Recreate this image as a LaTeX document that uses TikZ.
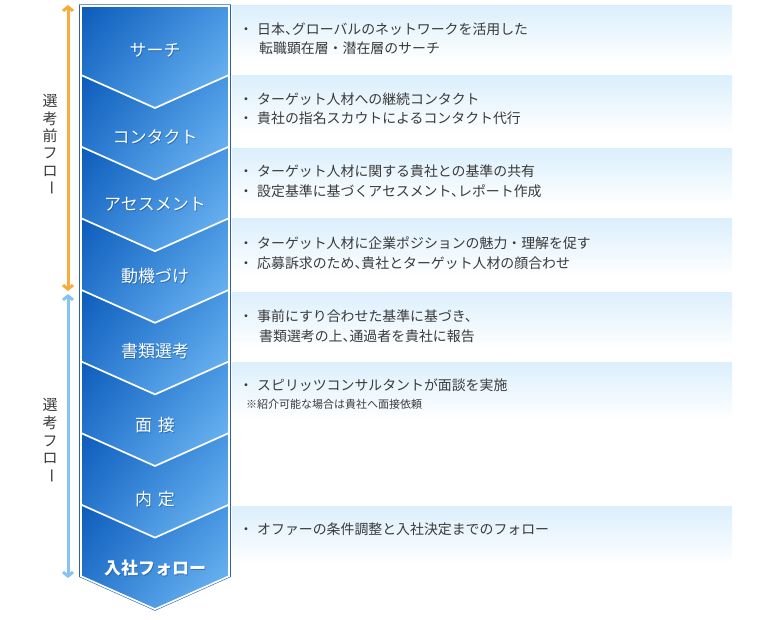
\documentclass[tikz,border=0pt]{standalone}
\usepackage{fontspec}
\setmainfont{Noto Sans CJK JP}
\usetikzlibrary{arrows.meta,shadings}
\definecolor{chUL}{HTML}{0C5BBA}
\definecolor{chUR}{HTML}{4796E2}
\definecolor{chLL}{HTML}{2E7ED4}
\definecolor{chLR}{HTML}{76BDF6}
\definecolor{frame}{HTML}{2A63AC}
\definecolor{pnl}{HTML}{DBEFFC}
\definecolor{txt}{HTML}{3A3A3A}
\definecolor{orng}{HTML}{F7AC3C}
\definecolor{lblue}{HTML}{86C3F3}
\definecolor{shad}{HTML}{0A3F80}
\newcommand{\chevpath}[2]{(81,#1) -- (229,#1) -- (229,#2) -- (155,#2+33) -- (81,#2) -- cycle}
\begin{document}
\begin{tikzpicture}[x=1pt,y=-1pt,
  chev/.style={upper left=chUL, upper right=chUR, lower left=chLL, lower right=chLR, draw=white, line width=1.7pt, line join=miter},
  steplabel/.style={text=white, font=\fontsize{17}{19}\selectfont, inner sep=0pt},
  stepshadow/.style={text=shad, opacity=0.45, font=\fontsize{17}{19}\selectfont, inner sep=0pt},
  panel/.style={top color=pnl, bottom color=white, draw=none},
  bul/.style={text=txt, font=\fontsize{13.9}{16}\selectfont, inner sep=0pt, anchor=base},
  line/.style={text=txt, font=\fontsize{13.9}{16}\selectfont, inner sep=0pt, anchor=base west},
  note/.style={text=txt, font=\fontsize{11}{12}\selectfont, inner sep=0pt, anchor=base west},
  vchar/.style={text=txt, font=\fontsize{15}{17}\selectfont, inner sep=0pt},
  barrow/.style={line width=3pt, {Straight Barb[length=4pt,width=10pt]}-{Straight Barb[length=4pt,width=10pt]}}
]
\useasboundingbox (0,0) rectangle (770,620);
\fill[white] (0,0) rectangle (770,620);

% right panels
\shade[panel] (232,6) rectangle (732,62);
\shade[panel] (232,76) rectangle (732,134);
\shade[panel] (232,149) rectangle (732,205);
\shade[panel] (232,219) rectangle (732,276);
\shade[panel] (232,292) rectangle (732,348);
\shade[panel] (232,362) rectangle (732,420);
\shade[panel] (232,506) rectangle (732,565);

% outer frame
\draw[frame, line width=1pt, line join=miter] (79.6,5) -- (230.4,5) -- (230.4,576.6) -- (155,610.2) -- (79.6,576.6) -- cycle;

% chevrons, bottom first
\shade[chev] \chevpath{503}{576.2};
\shade[chev] \chevpath{431}{504.6};
\shade[chev] \chevpath{359}{433};
\shade[chev] \chevpath{288}{361.4};
\shade[chev] \chevpath{216}{289.8};
\shade[chev] \chevpath{145}{218.2};
\shade[chev] \chevpath{73}{146.6};
\shade[chev] \chevpath{6}{75};

% step labels
\foreach \t/\y/\n in {サーチ/50/s1, コンタクト/137/s2, アセスメント/204/s3, 動機づけ/276/s4, 書類選考/351/s5, 面\hspace{6pt}接/425/s6, 内\hspace{6pt}定/499/s7}{
  \node[stepshadow] (\n sh) at (155.8,\y+0.8) {\t};
  \node[steplabel] (\n) at (155,\y) {\t};
}
\node[stepshadow, font=\fontsize{17}{19}\selectfont\bfseries] (s8sh) at (155.8,568.8) {入社フォロー};
\node[steplabel, font=\fontsize{17}{19}\selectfont\bfseries] (s8) at (155,568) {入社フォロー};

% panel texts (baselines)
\node[bul] (b1) at (246,35) {・};
\node[line] (t1a) at (257,35) {日本、\kern-0.5em グローバルのネットワークを活用した};
\node[line] (t1b) at (259,54) {転職顕在層・潜在層のサーチ};

\node[bul] (b2a) at (246,105) {・};
\node[line] (t2a) at (257,105) {ターゲット人材への継続コンタクト};
\node[bul] (b2b) at (246,124) {・};
\node[line] (t2b) at (257,124) {貴社の指名スカウトによるコンタクト代行};

\node[bul] (b3a) at (246,177) {・};
\node[line] (t3a) at (257,177) {ターゲット人材に関する貴社との基準の共有};
\node[bul] (b3b) at (246,197) {・};
\node[line] (t3b) at (257,197) {設定基準に基づくアセスメント、\kern-0.5em レポート作成};

\node[bul] (b4a) at (246,248) {・};
\node[line] (t4a) at (257,248) {ターゲット人材に企業ポジションの魅力・理解を促す};
\node[bul] (b4b) at (246,268) {・};
\node[line] (t4b) at (257,268) {応募訴求のため、\kern-0.5em 貴社とターゲット人材の顔合わせ};

\node[bul] (b5) at (246,321) {・};
\node[line] (t5a) at (257,321) {事前にすり合わせた基準に基づき、};
\node[line] (t5b) at (259,341) {書類選考の上、\kern-0.5em 通過者を貴社に報告};

\node[bul] (b6) at (246,390) {・};
\node[line] (t6a) at (257,390) {スピリッツコンサルタントが面談を実施};
\node[note] (t6b) at (246,408) {※紹介可能な場合は貴社へ面接依頼};

\node[bul] (b8) at (246,534) {・};
\node[line] (t8) at (257,534) {オファーの条件調整と入社決定までのフォロー};

% left arrows
\coordinate (oT) at (68,5);
\coordinate (oB) at (68,291);
\coordinate (bT) at (68,294);
\coordinate (bB) at (68,578);
\draw[barrow, orng] (oT) -- (oB);
\draw[barrow, lblue] (bT) -- (bB);

% vertical labels
\node[vchar] (v1) at (50,101) {選};
\node[vchar] (v2) at (50,118.5) {考};
\node[vchar] (v3) at (50,136) {前};
\node[vchar] (v4) at (50,153.5) {フ};
\node[vchar] (v5) at (50,171) {ロ};
\node[vchar, rotate=-90] (v6) at (50,188.5) {ー};

\node[vchar] (w1) at (50,405) {選};
\node[vchar] (w2) at (50,422.5) {考};
\node[vchar] (w3) at (50,441) {フ};
\node[vchar] (w4) at (50,458.5) {ロ};
\node[vchar, rotate=-90] (w5) at (50,476) {ー};
\end{tikzpicture}
\end{document}
